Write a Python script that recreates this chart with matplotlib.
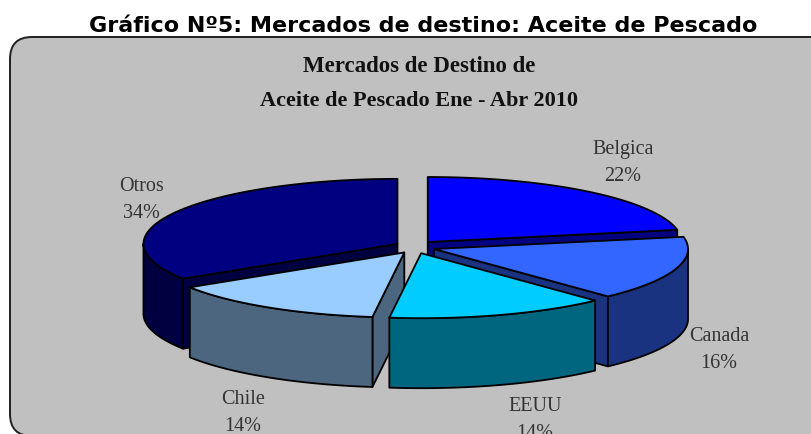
import numpy as np
import matplotlib
matplotlib.use('Agg')
import matplotlib.pyplot as plt
from matplotlib.patches import FancyBboxPatch

# Data
markets = ['Belgica', 'Canada', 'EEUU', 'Chile', 'Otros']
shares = [22, 16, 14, 14, 34]

top_colors = ['#0000FF', '#3366FF', '#00CCFF', '#99CCFF', '#000080']
wall_colors = ['#000080', '#1A3380', '#006680', '#4D6680', '#000040']
draw_order = [4, 0, 1, 3, 2]

label_xy = [(623, 150), (719, 337), (535, 407), (243, 400), (141, 187)]

# Pie geometry in pixels
cx, cy = 415, 248
rx, ry = 254, 65
depth = 70
explode_x, explode_y = 20, 6.5

fig = plt.figure(figsize=(8.11, 4.35), dpi=100)
ax = fig.add_axes([0, 0, 1, 1])
ax.set_xlim(0, 811)
ax.set_ylim(435, 0)
ax.axis('off')

panel = FancyBboxPatch((32, 60), 820, 355, boxstyle='round,pad=22,rounding_size=22',
                       fc='#C0C0C0', ec='#202020', lw=1.4)
ax.add_patch(panel)


def ring_point(ox, oy, deg, dz=0.0):
    t = np.radians(deg)
    return ox + rx * np.sin(t), oy - ry * np.cos(t) + dz


def arc(ox, oy, a, b, dz=0.0):
    ts = np.linspace(a, b, 80)
    x, y = ring_point(ox, oy, ts, dz)
    return list(zip(x, y))


def poly(pts, fc):
    ax.fill(*zip(*pts), fc=fc, ec='black', lw=1.3, joinstyle='round')


edges = np.concatenate([[0], np.cumsum(shares)]) * 3.6

for i in draw_order:
    a, b = edges[i], edges[i + 1]
    mid = np.radians((a + b) / 2)
    ox = cx + explode_x * np.sin(mid)
    oy = cy - explode_y * np.cos(mid)
    apex = (ox, oy)
    apex_low = (ox, oy + depth)

    # radial walls that face the viewer
    if 0 < b < 180:
        pe = ring_point(ox, oy, b)
        pe_low = ring_point(ox, oy, b, depth)
        poly([apex, pe, pe_low, apex_low], wall_colors[i])
    if 180 < a < 360:
        ps = ring_point(ox, oy, a)
        ps_low = ring_point(ox, oy, a, depth)
        poly([apex, ps, ps_low, apex_low], wall_colors[i])

    # outer wall, front half only
    lo, hi = max(a, 90), min(b, 270)
    if lo < hi:
        poly(arc(ox, oy, lo, hi) + arc(ox, oy, hi, lo, depth), wall_colors[i])

    poly([apex] + arc(ox, oy, a, b), top_colors[i])

fig.text(423 / 811, 1 - 26 / 435, 'Gráfico Nº5: Mercados de destino: Aceite de Pescado',
         ha='center', va='center', fontsize=16, fontweight='bold', family='DejaVu Sans')

ax.text(419, 67, 'Mercados de Destino de', ha='center', va='center', fontsize=16.5,
        fontweight='bold', family='Liberation Serif', color='#111111')
ax.text(419, 101, 'Aceite de Pescado Ene - Abr 2010', ha='center', va='center', fontsize=16,
        fontweight='bold', family='Liberation Serif', color='#111111')

for name, share, (lx, ly) in zip(markets, shares, label_xy):
    ax.text(lx, ly, name, ha='center', va='center', fontsize=14.5,
            family='Liberation Serif', color='#333333', clip_on=False)
    ax.text(lx, ly + 27, f'{share}%', ha='center', va='center', fontsize=14.5,
            family='Liberation Serif', color='#333333', clip_on=False)

fig.savefig('out.png', dpi=100, facecolor='white')
